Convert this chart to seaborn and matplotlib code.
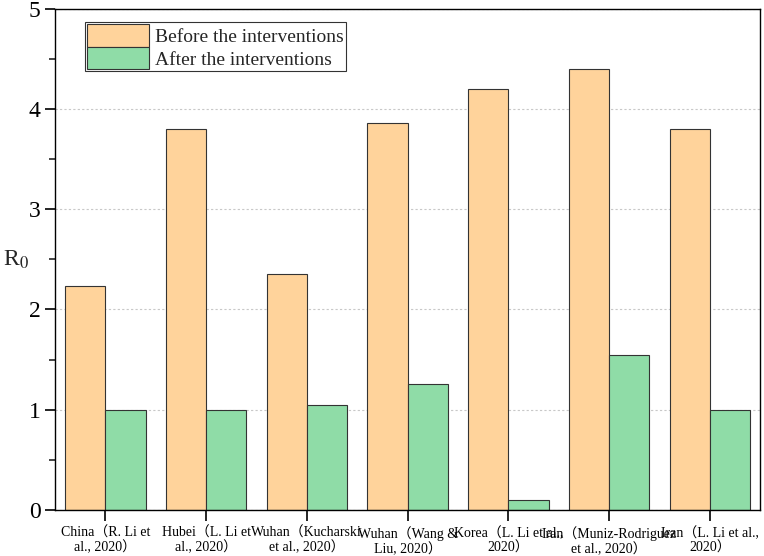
import pandas as pd
import numpy as np
import matplotlib.pyplot as plt
import seaborn as sns

sns.set_theme(style="ticks")
plt.rcParams["font.family"] = ["Liberation Serif", "Noto Sans CJK SC", "DejaVu Sans"]
plt.rcParams["mathtext.fontset"] = "stix"

# ── datos ────────────────────────────────────────────────────────────────────
studies = [
    "China（R. Li et\nal., 2020）",
    "Hubei（L. Li et\nal., 2020）",
    "Wuhan（Kucharski\net al., 2020）",
    "Wuhan（Wang &\nLiu, 2020）",
    "Korea（L. Li et al.,\n2020）",
    "Iran（Muniz-Rodriguez\net al., 2020）",
    "Iran（L. Li et al.,\n2020）",
]
before = [2.23, 3.8, 2.35, 3.86, 4.2, 4.4, 3.8]
after = [1.0, 1.0, 1.05, 1.26, 0.1, 1.55, 1.0]
periods = ["Before the interventions", "After the interventions"]
colors = ["#FFD39B", "#8FDCA7"]

df = pd.DataFrame({
    "study": studies * 2,
    "R0": before + after,
    "period": [periods[0]] * len(studies) + [periods[1]] * len(studies),
})

# ── figura ───────────────────────────────────────────────────────────────────
fig = plt.figure(figsize=(7.64, 5.56), dpi=100)
ax = fig.add_axes([0.072, 0.083, 0.923, 0.901])

sns.barplot(data=df, x="study", y="R0", hue="period", palette=colors,
            width=0.8, edgecolor="#333333", linewidth=0.8, saturation=1, ax=ax)

ax.set_xlim(-0.5, 6.5)
ax.set_ylim(0, 5)
ax.set_yticks([0, 1, 2, 3, 4, 5])
ax.set_yticks(np.arange(0.5, 5, 1), minor=True)
ax.yaxis.grid(True, linestyle=(0, (2, 2)), color="#c8c8c8", linewidth=0.8)
ax.set_axisbelow(True)

for s in ax.spines.values():
    s.set_color("black")
    s.set_linewidth(1.0)

ax.tick_params(axis="y", which="major", direction="out", length=7, width=1.2,
               labelsize=17, colors="black")
ax.tick_params(axis="y", which="minor", direction="out", length=4, width=1.2)
ax.tick_params(axis="x", direction="out", length=8, width=1.2,
               labelsize=10, colors="black", pad=4)
for lab in ax.get_xticklabels():
    lab.set_linespacing(1.1)

ax.set_xlabel("")
ax.set_ylabel("R$_{\\mathrm{0}}$", fontsize=17, rotation=0, va="center", ha="center")
ax.yaxis.set_label_coords(-0.055, 0.5)

leg = ax.legend(loc="upper left", bbox_to_anchor=(0.043, 0.973), fontsize=14,
                frameon=True, fancybox=False, edgecolor="black",
                handlelength=3.2, handleheight=1.4, handletextpad=0.3,
                labelspacing=0.0, borderpad=0.1, borderaxespad=0)
leg.get_frame().set_linewidth(0.8)

plt.savefig("out.png", dpi=100)
plt.close()
